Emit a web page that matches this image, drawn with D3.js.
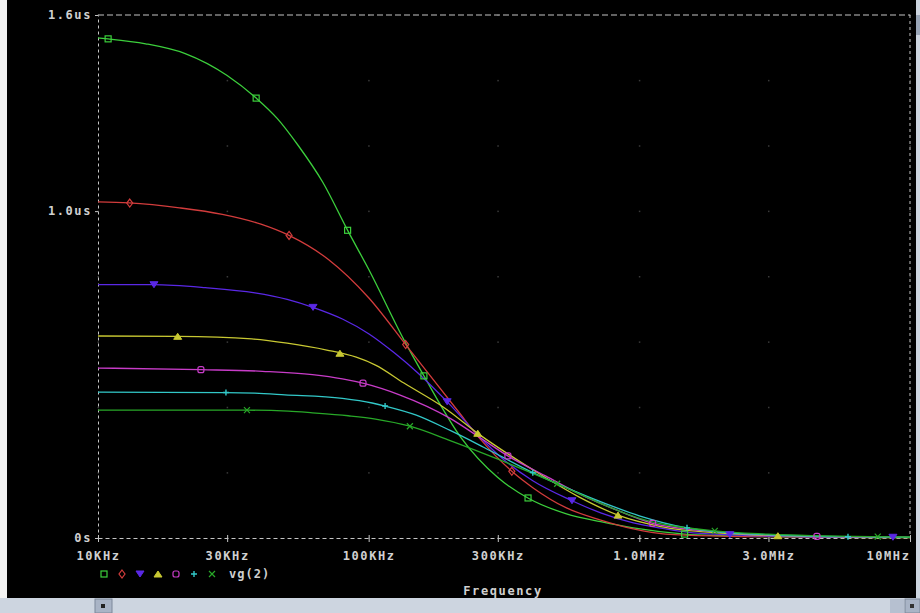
<!DOCTYPE html>
<html>
<head>
<meta charset="utf-8">
<script src="https://cdn.jsdelivr.net/npm/d3@7"></script>
<style>
  body { margin: 0; background: #000; }
  svg { display: block; }
  text { font-family: "DejaVu Sans Mono", monospace; font-weight: bold; }
</style>
</head>
<body>
<script>
// frequency ticks (Hz) and their labels
var xTicks = [1e4, 3e4, 1e5, 3e5, 1e6, 3e6, 1e7];
var xTickLabels = ["10KHz", "30KHz", "100KHz", "300KHz", "1.0MHz", "3.0MHz", "10MHz"];
var yTicks = [0, 1.0, 1.6];
var yTickLabels = ["0s", "1.0us", "1.6us"];

// group delay traces, [Hz, us]
var trace1 = [[1e4,1.53],[1.09e4,1.527],[1.5e4,1.512],[2.1e4,1.482],[3e4,1.415],[3.85e4,1.345],[4.6e4,1.283],[5.5e4,1.20],[6.76e4,1.089],[8.4e4,0.938],[1e5,0.822],[1.35e5,0.606],[1.61e5,0.492],[2.19e5,0.308],[3e5,0.185],[3.92e5,0.12],[5.38e5,0.074],[7.2e5,0.05],[9.5e5,0.031],[1.47e6,0.012],[2e6,0.007],[3e6,0.004],[5e6,0.002],[1e7,0.001]];
var trace2 = [[1e4,1.028],[1.3e4,1.025],[2e4,1.01],[2.88e4,0.99],[4e4,0.96],[5.1e4,0.925],[7.1e4,0.852],[1e5,0.735],[1.39e5,0.585],[2.13e5,0.39],[2.6e5,0.3],[3.38e5,0.204],[4.04e5,0.154],[5.38e5,0.092],[7.2e5,0.055],[9.5e5,0.028],[1.25e6,0.012],[2e6,0.006],[3e6,0.004],[5e6,0.002],[1e7,0.001]];
var trace3 = [[1e4,0.775],[1.6e4,0.775],[2.49e4,0.766],[3.8e4,0.75],[5e4,0.73],[6.26e4,0.705],[8e4,0.67],[1e5,0.625],[1.25e5,0.565],[1.52e5,0.505],[1.96e5,0.415],[2.6e5,0.305],[3.05e5,0.25],[4.04e5,0.175],[5.64e5,0.114],[7.2e5,0.077],[9.5e5,0.046],[1.25e6,0.028],[1.5e6,0.018],[2.16e6,0.01],[3e6,0.006],[5e6,0.003],[1e7,0.002]];
var trace4 = [[1e4,0.618],[1.97e4,0.617],[3.7e4,0.609],[5e4,0.596],[7e4,0.575],[9e4,0.553],[1.06e5,0.529],[1.35e5,0.474],[1.89e5,0.4],[2.59e5,0.314],[3.3e5,0.255],[4.5e5,0.185],[6e5,0.125],[8.34e5,0.07],[1.2e6,0.035],[2e6,0.015],[3.25e6,0.007],[5e6,0.004],[1e7,0.002]];
var trace5 = [[1e4,0.52],[2.4e4,0.515],[4.05e4,0.51],[6.2e4,0.5],[8e4,0.487],[9.6e4,0.473],[1.3e5,0.438],[2e5,0.366],[2.6e5,0.305],[3.3e5,0.249],[4.5e5,0.19],[6e5,0.135],[8e5,0.09],[1.12e6,0.045],[2e6,0.018],[4.53e6,0.005],[1e7,0.002]];
var trace6 = [[1e4,0.446],[2.97e4,0.445],[3.8e4,0.443],[4.9e4,0.438],[8e4,0.427],[1.03e5,0.413],[1.16e5,0.403],[1.5e5,0.376],[2e5,0.329],[2.67e5,0.277],[4.04e5,0.2],[5.5e5,0.15],[7.5e5,0.105],[1e6,0.068],[1.5e6,0.031],[2e6,0.018],[3e6,0.01],[5.9e6,0.004],[1e7,0.002]];
var trace7 = [[1e4,0.391],[3.55e4,0.391],[5.05e4,0.388],[6.2e4,0.383],[8.4e4,0.374],[1.06e5,0.364],[1.42e5,0.342],[2e5,0.298],[3.07e5,0.238],[4.97e5,0.166],[7e5,0.11],[1e6,0.06],[1.9e6,0.022],[3e6,0.012],[7.6e6,0.004],[1e7,0.003]];

// where each trace carries its symbol (Hz)
var marks1 = [1.09e4, 3.84e4, 8.36e4, 1.6e5, 3.88e5, 1.47e6];
var marks2 = [1.31e4, 5.08e4, 1.37e5, 3.38e5];
var marks3 = [1.61e4, 6.23e4, 1.95e5, 5.64e5, 2.16e6, 8.65e6];
var marks4 = [1.97e4, 7.83e4, 2.53e5, 8.34e5, 3.25e6];
var marks5 = [2.4e4, 9.53e4, 3.27e5, 1.12e6, 4.53e6];
var marks6 = [2.97e4, 1.15e5, 4.04e5, 1.5e6, 5.9e6];
var marks7 = [3.55e4, 1.42e5, 4.97e5, 1.9e6, 7.6e6];

var traces = [
  {data: trace1, marks: marks1, color: "#3ccf3c", sym: "square"},
  {data: trace2, marks: marks2, color: "#d23c3c", sym: "diamond"},
  {data: trace3, marks: marks3, color: "#5a28e6", sym: "down"},
  {data: trace4, marks: marks4, color: "#c8c832", sym: "up"},
  {data: trace5, marks: marks5, color: "#c83cc8", sym: "circle"},
  {data: trace6, marks: marks6, color: "#32c8c8", sym: "plus"},
  {data: trace7, marks: marks7, color: "#28a828", sym: "cross"}
];

var svg = d3.select("body").append("svg")
    .attr("width", 920)
    .attr("height", 613)
    .style("background-color", "#000");

var x = d3.scaleLog().domain([1e4, 1e7]).range([98, 910]);
var y = d3.scaleLinear().domain([0, 1.6]).range([538, 15]);

// window chrome
svg.append("rect").attr("x", 0).attr("y", 0).attr("width", 7).attr("height", 613).attr("fill", "#f2f2f2");
svg.append("rect").attr("x", 0).attr("y", 598).attr("width", 920).attr("height", 15).attr("fill", "#cdd5e0");
svg.append("rect").attr("x", 916).attr("y", 0).attr("width", 4).attr("height", 598).attr("fill", "#cdd5e0");
svg.append("rect").attr("x", 916).attr("y", 15).attr("width", 4).attr("height", 20).attr("fill", "#9aa6b8");
svg.append("rect").attr("x", 95).attr("y", 599).attr("width", 17).attr("height", 14).attr("fill", "#a9b4c6").attr("stroke", "#7d889a");
svg.append("rect").attr("x", 101).attr("y", 604).attr("width", 4).attr("height", 4).attr("fill", "#222");
svg.append("rect").attr("x", 890).attr("y", 599).attr("width", 14).attr("height", 14).attr("fill", "#b6c0d0");
svg.append("rect").attr("x", 905).attr("y", 599).attr("width", 15).attr("height", 14).attr("fill", "#a9b4c6").attr("stroke", "#7d889a");
svg.append("rect").attr("x", 910).attr("y", 604).attr("width", 4).attr("height", 4).attr("fill", "#333");

// faint grid dots
var yGrid = d3.range(0, 1.61, 0.2);
var gridPts = [];
xTicks.forEach(function(f) { yGrid.forEach(function(v) { gridPts.push([f, v]); }); });
svg.append("g").selectAll("rect")
    .data(gridPts)
    .enter().append("rect")
    .attr("x", d => x(d[0]) - 0.5)
    .attr("y", d => y(d[1]) - 0.5)
    .attr("width", 1.5).attr("height", 1.5)
    .attr("fill", "#3a3a3a");

// frame: dashed box
var axisColor = "#c4c4c4";
svg.append("line").attr("x1", 98).attr("x2", 910).attr("y1", y(1.6)).attr("y2", y(1.6))
    .attr("stroke", axisColor).attr("stroke-dasharray", "6,3");
svg.append("line").attr("x1", 910).attr("x2", 910).attr("y1", y(1.6)).attr("y2", y(0))
    .attr("stroke", axisColor).attr("stroke-dasharray", "3,3");

var xAxis = d3.axisBottom(x)
    .tickValues(xTicks)
    .tickFormat((d, i) => xTickLabels[i])
    .tickSizeInner(4).tickSizeOuter(0).tickPadding(9);
var gx = svg.append("g").attr("transform", "translate(0," + y(0) + ")").call(xAxis);
gx.select(".domain").attr("stroke", axisColor).attr("stroke-dasharray", "4,3");
gx.selectAll(".tick line").attr("stroke", axisColor).attr("y1", -3).attr("y2", 4);
gx.selectAll(".tick text").attr("fill", "#d0d0d0").style("font-size", "12px").style("letter-spacing", "1.6px")
    .style("font-family", "DejaVu Sans Mono").style("font-weight", "bold");
gx.selectAll(".tick text").filter((d, i) => i === xTicks.length - 1).attr("text-anchor", "end").attr("dx", 0);

var yAxis = d3.axisLeft(y)
    .tickValues(yTicks)
    .tickFormat((d, i) => yTickLabels[i])
    .tickSizeInner(3).tickSizeOuter(0).tickPadding(3);
var gy = svg.append("g").attr("transform", "translate(98,0)").call(yAxis);
gy.select(".domain").attr("stroke", axisColor).attr("stroke-dasharray", "3,3");
gy.selectAll(".tick line").attr("stroke", axisColor);
gy.selectAll(".tick text").attr("fill", "#d0d0d0").style("font-size", "12px").style("letter-spacing", "1.6px")
    .style("font-family", "DejaVu Sans Mono").style("font-weight", "bold");

// traces
var line = d3.line()
    .x(d => x(d[0]))
    .y(d => y(d[1]))
    .curve(d3.curveMonotoneX);

function valueAt(data, f) {
  var lf = Math.log10(f);
  for (var i = 1; i < data.length; i++) {
    if (data[i][0] >= f) {
      var a = data[i - 1], b = data[i];
      var t = (lf - Math.log10(a[0])) / (Math.log10(b[0]) - Math.log10(a[0]));
      return a[1] + t * (b[1] - a[1]);
    }
  }
  return data[data.length - 1][1];
}

function drawSym(g, sym, cx, cy, color) {
  var s = 3;
  if (sym === "square") {
    g.append("rect").attr("x", cx - s).attr("y", cy - s).attr("width", 2 * s).attr("height", 2 * s)
      .attr("fill", "none").attr("stroke", color).attr("stroke-width", 1.2);
  } else if (sym === "diamond") {
    g.append("path").attr("d", "M" + cx + "," + (cy - s - 1) + "L" + (cx + s) + "," + cy + "L" + cx + "," + (cy + s + 1) + "L" + (cx - s) + "," + cy + "Z")
      .attr("fill", "none").attr("stroke", color).attr("stroke-width", 1.2);
  } else if (sym === "down") {
    g.append("path").attr("d", "M" + (cx - s - 1) + "," + (cy - s) + "L" + (cx + s + 1) + "," + (cy - s) + "L" + cx + "," + (cy + s) + "Z")
      .attr("fill", color).attr("stroke", color).attr("stroke-width", 1);
  } else if (sym === "up") {
    g.append("path").attr("d", "M" + (cx - s - 1) + "," + (cy + s) + "L" + (cx + s + 1) + "," + (cy + s) + "L" + cx + "," + (cy - s) + "Z")
      .attr("fill", color).attr("stroke", color).attr("stroke-width", 1);
  } else if (sym === "circle") {
    g.append("rect").attr("x", cx - s).attr("y", cy - s).attr("width", 2 * s).attr("height", 2 * s).attr("rx", 2)
      .attr("fill", "none").attr("stroke", color).attr("stroke-width", 1.2);
  } else if (sym === "plus") {
    g.append("path").attr("d", "M" + (cx - s) + "," + cy + "H" + (cx + s) + "M" + cx + "," + (cy - s) + "V" + (cy + s))
      .attr("stroke", color).attr("stroke-width", 1.4);
  } else {
    g.append("path").attr("d", "M" + (cx - s) + "," + (cy - s) + "L" + (cx + s) + "," + (cy + s) + "M" + (cx + s) + "," + (cy - s) + "L" + (cx - s) + "," + (cy + s))
      .attr("stroke", color).attr("stroke-width", 1.2);
  }
}

var plot = svg.append("g");
traces.forEach(function(t) {
  plot.append("path")
    .attr("d", line(t.data))
    .attr("fill", "none")
    .attr("stroke", t.color)
    .attr("stroke-width", 1.3);
});
traces.forEach(function(t) {
  var g = plot.append("g");
  t.marks.forEach(function(f) {
    drawSym(g, t.sym, x(f), y(valueAt(t.data, f)), t.color);
  });
});

// legend
var lg = svg.append("g");
traces.forEach(function(t, i) {
  drawSym(lg, t.sym, 104 + i * 18, 574, t.color);
});
svg.append("text").attr("x", 229).attr("y", 578).attr("fill", "#d0d0d0")
    .style("font-size", "12px").style("letter-spacing", "1px").text("vg(2)");

svg.append("text").attr("x", 503).attr("y", 595).attr("text-anchor", "middle").attr("fill", "#d0d0d0")
    .style("font-size", "12px").style("letter-spacing", "1.6px").text("Frequency");
</script>
</body>
</html>
